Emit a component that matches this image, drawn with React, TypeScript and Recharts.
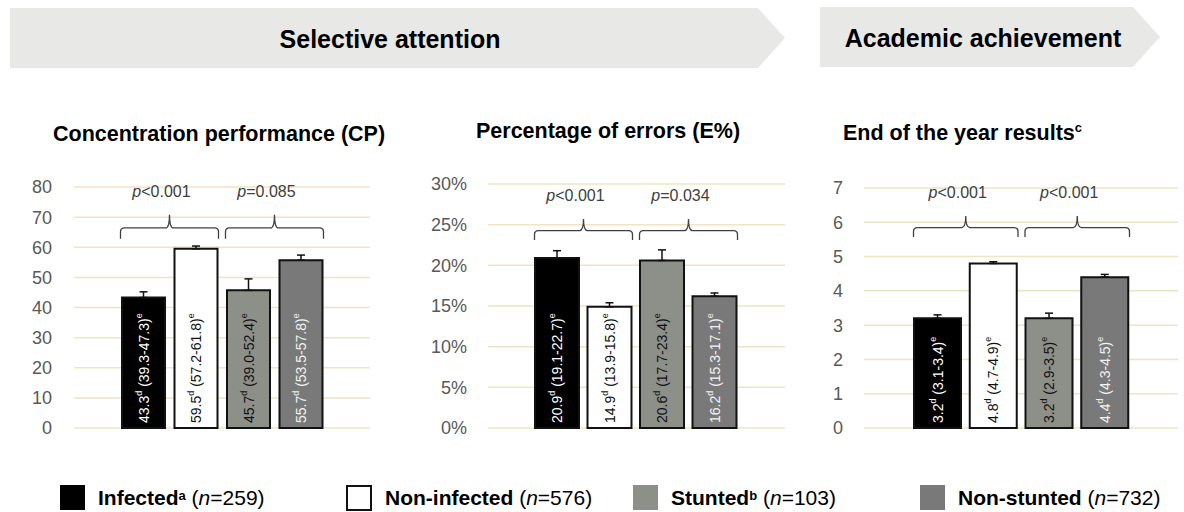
import React from 'react'
import {
    Bar,
    BarChart,
    CartesianGrid,
    Cell,
    ErrorBar,
    LabelList,
    ReferenceArea,
    XAxis,
    YAxis,
} from 'recharts'

const FONT = "'Liberation Sans', Arial, sans-serif"

// groups shared by every panel
const groups = ['Infected', 'Non-infected', 'Stunted', 'Non-stunted']
const groupSup = ['a', '', 'b', '']
const groupN = [259, 576, 103, 732]

// Concentration performance (CP)
const cpMeans = [43.3, 59.5, 45.7, 55.7]
const cpCi = ['39.3-47.3', '57.2-61.8', '39.0-52.4', '53.5-57.8']
const cpErr = [1.9, 0.9, 3.8, 1.7]
const cpTicks = [0, 10, 20, 30, 40, 50, 60, 70, 80]
const cpP = ['<0.001', '=0.085']
const cpBrace = [62.8, 70.8]

// Percentage of errors (E%)
const errMeans = [20.9, 14.9, 20.6, 16.2]
const errCi = ['19.1-22.7', '13.9-15.8', '17.7-23.4', '15.3-17.1']
const errErr = [0.9, 0.5, 1.3, 0.4]
const errTicks = [0, 5, 10, 15, 20, 25, 30]
const errP = ['<0.001', '=0.034']
const errBrace = [23.1, 25.7]

// End of the year results
const resMeans = [3.2, 4.8, 3.2, 4.4]
const resCi = ['3.1-3.4', '4.7-4.9', '2.9-3.5', '4.3-4.5']
const resErr = [0.1, 0.05, 0.15, 0.08]
const resTicks = [0, 1, 2, 3, 4, 5, 6, 7]
const resP = ['<0.001', '<0.001']
const resBrace = [5.57, 6.18]

const fills = ['#000000', '#ffffff', '#8d9088', '#797979']
const labelFills = ['#ffffff', '#111111', '#111111', '#f2f2f2']
const GRID = '#efe4c6'

interface Frame {
    left: number
    top: number
    width: number
    height: number
    margin: { top: number; right: number; bottom: number; left: number }
    yWidth: number
    tickMargin: number
    pad: [number, number]
    barSize: number
}

interface PanelProps {
    title: React.ReactNode
    titleStyle: React.CSSProperties
    means: number[]
    ci: string[]
    err: number[]
    ticks: number[]
    tickFmt?: (v: number) => string
    pvals: string[]
    brace: number[]
    frame: Frame
}

// curly bracket spanning two bars, with the p value above it
const Brace = (props: any) => {
    const inset = 3.5
    const x = props.x + inset
    const width = props.width - inset * 2
    const { y, height, p } = props
    const cx = x + width / 2
    const mid = y + height * 0.55
    const r = 4
    const d = `M${x},${y + height} L${x},${mid + r} Q${x},${mid} ${x + r},${mid} L${cx - r},${mid} Q${cx},${mid} ${cx},${y} Q${cx},${mid} ${cx + r},${mid} L${x + width - r},${mid} Q${x + width},${mid} ${x + width},${mid + r} L${x + width},${y + height}`
    return (
        <g>
            <path d={d} fill="none" stroke="#404040" strokeWidth={1.3} />
            <text
                x={cx - 8}
                y={y - 24}
                textAnchor="middle"
                dominantBaseline="central"
                fontSize={16}
                fontFamily={FONT}
                fill="#404040"
            >
                <tspan fontStyle="italic">p</tspan>
                <tspan>{p}</tspan>
            </text>
        </g>
    )
}

const Panel: React.FC<PanelProps> = ({ title, titleStyle, means, ci, err, ticks, tickFmt, pvals, brace, frame }) => {
    const rows = means.map((m, i) => ({ group: groups[i], mean: m, err: [0, err[i]], ci: ci[i] }))

    const renderLabel = (p: any) => {
        const { x, y, width, height, index, value } = p
        const cx = Number(x) + Number(width) / 2
        const bottom = Number(y) + Number(height)
        return (
            <text
                transform={`translate(${cx},${bottom - 5}) rotate(-90)`}
                fill={labelFills[index]}
                fontSize={14}
                fontFamily={FONT}
                dominantBaseline="central"
            >
                <tspan>{Number(value).toFixed(1)}</tspan>
                <tspan dy={-5} fontSize={9}>d</tspan>
                <tspan dy={5}>{` (${rows[index].ci})`}</tspan>
                <tspan dy={-5} fontSize={9}>e</tspan>
            </text>
        )
    }

    return (
        <>
            <div
                style={{
                    position: 'absolute',
                    fontFamily: FONT,
                    fontWeight: 'bold',
                    fontSize: 21.5,
                    color: '#000',
                    whiteSpace: 'nowrap',
                    ...titleStyle,
                }}
            >
                {title}
            </div>
            <div style={{ position: 'absolute', left: frame.left, top: frame.top }}>
                <BarChart width={frame.width} height={frame.height} data={rows} margin={frame.margin}>
                    <CartesianGrid vertical={false} stroke={GRID} strokeWidth={1.5} />
                    <XAxis dataKey="group" type="category" hide padding={{ left: frame.pad[0], right: frame.pad[1] }} />
                    <YAxis
                        width={frame.yWidth}
                        domain={[ticks[0], ticks[ticks.length - 1]]}
                        ticks={ticks}
                        interval={0}
                        axisLine={false}
                        tickLine={false}
                        tickSize={0}
                        tickMargin={frame.tickMargin}
                        tick={{ fill: '#595959', fontSize: 18, fontFamily: FONT }}
                        tickFormatter={tickFmt}
                    />
                    <Bar dataKey="mean" barSize={frame.barSize} stroke="#111" strokeWidth={2} isAnimationActive={false}>
                        {rows.map((r, i) => (
                            <Cell key={r.group} fill={fills[i]} />
                        ))}
                        <ErrorBar dataKey="err" direction="y" width={4} stroke="#111" strokeWidth={1.5} />
                        <LabelList dataKey="mean" content={renderLabel} />
                    </Bar>
                    {pvals.map((pv, k) => (
                        <ReferenceArea
                            key={k}
                            x1={groups[k * 2]}
                            x2={groups[k * 2 + 1]}
                            y1={brace[0]}
                            y2={brace[1]}
                            ifOverflow="visible"
                            shape={(sp: any) => <Brace {...sp} p={pv} />}
                        />
                    ))}
                </BarChart>
            </div>
        </>
    )
}

const Header = () => (
    <svg width={1184} height={80} style={{ position: 'absolute', left: 0, top: 0 }}>
        <polygon points="10,8 758,8 785,38 758,68 10,68" fill="#e8e8e7" />
        <polygon points="820,7 1133,7 1160,37 1133,67 820,67" fill="#e8e8e7" />
        <text x={390} y={39} textAnchor="middle" dominantBaseline="central" fontFamily={FONT} fontWeight="bold" fontSize={25} fill="#000">
            Selective attention
        </text>
        <text x={983} y={38} textAnchor="middle" dominantBaseline="central" fontFamily={FONT} fontWeight="bold" fontSize={25} fill="#000">
            Academic achievement
        </text>
    </svg>
)

const legendLeft = [60, 346, 633, 920]

const Legend = () => (
    <>
        {groups.map((g, i) => (
            <div
                key={g}
                style={{
                    position: 'absolute',
                    left: legendLeft[i],
                    top: 485,
                    height: 25,
                    display: 'flex',
                    alignItems: 'center',
                    fontFamily: FONT,
                    fontSize: 21,
                    color: '#000',
                    whiteSpace: 'nowrap',
                }}
            >
                <div
                    style={{
                        width: i === 1 ? 22 : 25,
                        height: i === 1 ? 22 : 25,
                        background: fills[i],
                        border: i === 1 ? '2px solid #111' : 'none',
                        marginRight: 13,
                        flexShrink: 0,
                    }}
                />
                <span style={{ fontWeight: 'bold' }}>{g}</span>
                {groupSup[i] && <sup style={{ fontSize: 13, fontWeight: 'bold', position: 'relative', top: -2 }}>{groupSup[i]}</sup>}
                <span>
                    &nbsp;(<i>n</i>={groupN[i]})
                </span>
            </div>
        ))}
    </>
)

export default function App() {
    return (
        <div style={{ position: 'absolute', left: 0, top: 0, width: 1184, height: 512, background: '#fff', overflow: 'hidden' }}>
            <Header />
            <Panel
                title="Concentration performance (CP)"
                titleStyle={{ left: 53, top: 122 }}
                means={cpMeans}
                ci={cpCi}
                err={cpErr}
                ticks={cpTicks}
                pvals={cpP}
                brace={cpBrace}
                frame={{
                    left: 0,
                    top: 170,
                    width: 390,
                    height: 270,
                    margin: { top: 17, right: 20, bottom: 12, left: 0 },
                    yWidth: 74,
                    tickMargin: 22,
                    pad: [43, 43],
                    barSize: 43,
                }}
            />
            <Panel
                title="Percentage of errors (E%)"
                titleStyle={{ left: 476, top: 119 }}
                means={errMeans}
                ci={errCi}
                err={errErr}
                ticks={errTicks}
                tickFmt={(v: number) => `${v}%`}
                pvals={errP}
                brace={errBrace}
                frame={{
                    left: 400,
                    top: 170,
                    width: 400,
                    height: 270,
                    margin: { top: 14, right: 15, bottom: 12, left: 0 },
                    yWidth: 88,
                    tickMargin: 21,
                    pad: [43, 44],
                    barSize: 44,
                }}
            />
            <Panel
                title={
                    <>
                        End of the year results<sup style={{ fontSize: 13 }}>c</sup>
                    </>
                }
                titleStyle={{ left: 843, top: 120 }}
                means={resMeans}
                ci={resCi}
                err={resErr}
                ticks={resTicks}
                pvals={resP}
                brace={resBrace}
                frame={{
                    left: 790,
                    top: 170,
                    width: 394,
                    height: 270,
                    margin: { top: 18, right: 6, bottom: 12, left: 0 },
                    yWidth: 74,
                    tickMargin: 21,
                    pad: [46, 45],
                    barSize: 47,
                }}
            />
            <Legend />
        </div>
    )
}
